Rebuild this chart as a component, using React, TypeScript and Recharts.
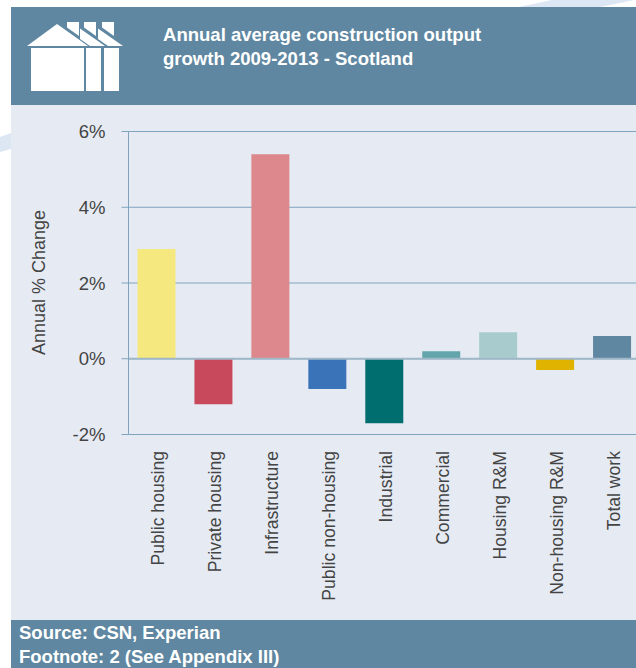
import * as React from 'react'
import { BarChart, Bar, Cell, CartesianGrid, XAxis, YAxis, ReferenceLine } from 'recharts'

const categories = [
  'Public housing',
  'Private housing',
  'Infrastructure',
  'Public non-housing',
  'Industrial',
  'Commercial',
  'Housing R&M',
  'Non-housing R&M',
  'Total work',
]
const growth = [2.9, -1.2, 5.4, -0.8, -1.7, 0.2, 0.7, -0.3, 0.6]
const barColors = ['#f5e87f', '#c9495c', '#dc888c', '#3b73b9', '#006d6f', '#62a6ab', '#a8cccd', '#dfb300', '#5f87a1']
const yTicks = [-2, 0, 2, 4, 6]

const chartData = categories.map((name, i) => ({ name, growth: growth[i] }))

const FONT = '"Liberation Sans", Arial, sans-serif'
const HEADER = '#5f87a1'
const PANEL = '#e6ebf3'
const AXIS = '#7fa3bd'
const INK = '#444'

const RotatedTick = (props: any) => {
  const { x, y, payload } = props
  return (
    <text
      transform={`translate(${x + 7.5},${y + 8.5}) rotate(-90)`}
      textAnchor="end"
      fontFamily={FONT}
      fontSize={17.6}
      fill={INK}
    >
      {payload.value}
    </text>
  )
}

// terraced-houses badge in the header band
const HouseIcon = () => (
  <svg width={130} height={100} style={{ position: 'absolute', left: 0, top: 0 }} fill="#fff">
    <polygon points="27,46 57,24 88,46" />
    <polygon points="67,22 79,22 79,36 67,27.5" />
    <polygon points="84,22 96,22 96,36 84,27.5" />
    <polygon points="102,22 114,22 114,36 102,27.5" />
    <polygon points="80,28.5 105,46 90,46 80,39" />
    <polygon points="98,28.5 123,46 108,46 98,39" />
    <rect x={31} y={48} width={53} height={43} />
    <rect x={86} y={48} width={15} height={43} />
    <rect x={104} y={48} width={15} height={43} />
  </svg>
)

// page background: panel plus the pale swoosh showing at its edges
const Backdrop = () => (
  <svg width={636} height={668} style={{ position: 'absolute', left: 0, top: 0 }}>
    <rect x={11} y={7} width={625} height={661} fill={PANEL} />
    <polygon points="0,137 11,133 11,149 0,152" fill="#dde6f3" />
    <polygon points="519,7 552,0 634,0 600,7" fill="#dde6f3" />
  </svg>
)

export default function App() {
  return (
    <div style={{ position: 'absolute', left: 0, top: 0, width: 636, height: 668, overflow: 'hidden', background: '#fff', fontFamily: FONT }}>
      <Backdrop />
      <div style={{ position: 'absolute', left: 11, top: 7, width: 625, height: 98, background: HEADER }} />
      <HouseIcon />
      <div style={{ position: 'absolute', left: 163, top: 23, color: '#fff', fontWeight: 700, fontSize: 18.55, lineHeight: '24px' }}>
        Annual average construction output
        <br />
        growth 2009-2013 - Scotland
      </div>
      <div style={{ position: 'absolute', left: 0, top: 0 }}>
        <BarChart
          width={680}
          height={620}
          data={chartData}
          margin={{ top: 131.5, right: 39, left: 0, bottom: 0 }}
        >
          <CartesianGrid vertical={false} stroke={AXIS} strokeWidth={1} />
          <XAxis dataKey="name" axisLine={false} tickLine={false} interval={0} height={185.5} tick={<RotatedTick />} />
          <YAxis
            domain={[-2, 6]}
            ticks={yTicks}
            width={128.5}
            axisLine={{ stroke: AXIS }}
            tickLine={{ stroke: AXIS }}
            tickSize={7}
            tickMargin={16}
            tickFormatter={(v: number) => `${v}%`}
            tick={{ fontFamily: FONT, fontSize: 18.5, fill: INK }}
            label={{ value: 'Annual % Change', angle: -90, position: 'insideLeft', dx: 34, dy: 72, style: { fontFamily: FONT, fontSize: 18, fill: INK } }}
          />
          <ReferenceLine y={0} stroke="#a0b7c8" strokeWidth={2} />
          <Bar dataKey="growth" barSize={38} isAnimationActive={false}>
            {chartData.map((d, i) => (
              <Cell key={d.name} fill={barColors[i]} />
            ))}
          </Bar>
        </BarChart>
      </div>
      <div style={{ position: 'absolute', left: 11, top: 620, width: 625, height: 48, background: HEADER }} />
      <div style={{ position: 'absolute', left: 19, top: 621, color: '#fff', fontWeight: 700, fontSize: 18.5, lineHeight: '24px' }}>
        Source: CSN, Experian
        <br />
        Footnote: 2 (See Appendix III)
      </div>
    </div>
  )
}
